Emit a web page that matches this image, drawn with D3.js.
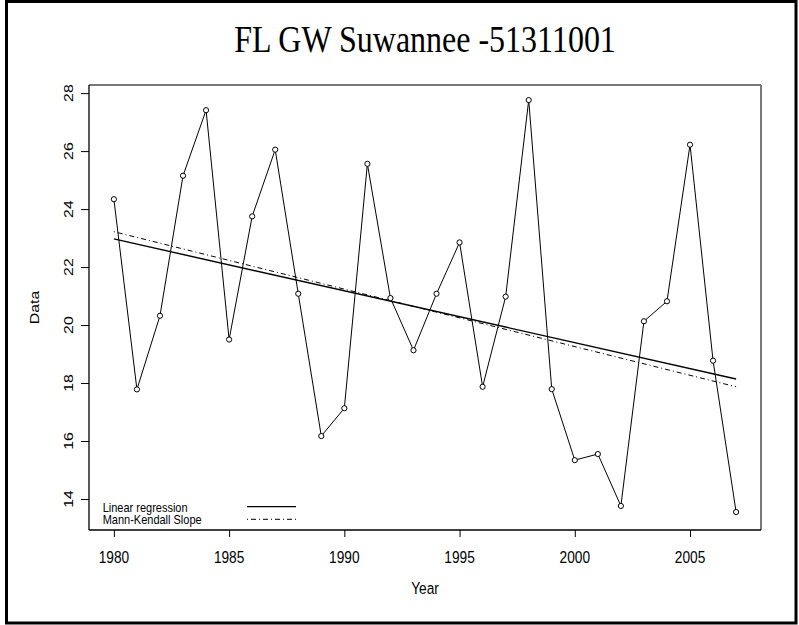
<!DOCTYPE html>
<html>
<head>
<meta charset="utf-8">
<script src="https://cdn.jsdelivr.net/npm/d3@7"></script>
<style>
  html, body { margin: 0; padding: 0; background: #fff; }
  svg { display: block; }
  text { font-family: "Liberation Sans", Arial, sans-serif; fill: #000; }
</style>
</head>
<body>
<svg id="chart" width="799" height="625"></svg>
<script>
// ---- data ----
const titleText = "FL GW Suwannee -51311001";
const xLabel = "Year";
const yLabel = "Data";
const years = [1980, 1981, 1982, 1983, 1984, 1985, 1986, 1987, 1988, 1989,
               1990, 1991, 1992, 1993, 1994, 1995, 1996, 1997, 1998, 1999,
               2000, 2001, 2002, 2003, 2004, 2005, 2006, 2007];
const values = [24.34, 17.78, 20.32, 25.15, 27.41, 19.50, 23.75, 26.05, 21.08, 16.17,
                17.13, 25.56, 20.93, 19.13, 21.08, 22.85, 17.87, 20.98, 27.76, 17.79,
                15.34, 15.55, 13.76, 20.13, 20.82, 26.22, 18.77, 13.55];
const trendYears = [1980, 2007];
const linRegValues = [22.97, 18.14];
const mkSlopeValues = [23.22, 17.87];
const xTicks = [1980, 1985, 1990, 1995, 2000, 2005];
const yTicks = [14, 16, 18, 20, 22, 24, 26, 28];
const legendLabels = ["Linear regression", "Mann-Kendall Slope"];
const xDomain = [1978.92, 2008.08];
const yDomain = [12.93, 28.28];

// ---- layout ----
const plot = { left: 89, right: 761, top: 85, bottom: 530 };
const stretch = 1.16;

const svg = d3.select("#chart");
const x = d3.scaleLinear().domain(xDomain).range([plot.left, plot.right]);
const y = d3.scaleLinear().domain(yDomain).range([plot.bottom, plot.top]);

// outer frame
svg.append("rect").attr("x", 6.5).attr("y", 1.5).attr("width", 789.5).attr("height", 621.5)
  .attr("fill", "none").attr("stroke", "#000").attr("stroke-width", 3);

// title
svg.append("text")
  .attr("transform", `translate(${(plot.left + plot.right) / 2},52) scale(1,${stretch})`)
  .attr("text-anchor", "middle")
  .style("font-family", "'Liberation Serif', 'Times New Roman', serif")
  .style("font-size", "32px")
  .text(titleText);

// axes ticks
svg.append("g").attr("transform", `translate(0,${plot.bottom})`)
  .call(d3.axisBottom(x).tickValues(xTicks).tickSize(7).tickFormat(""))
  .call(g => g.select(".domain").remove())
  .call(g => g.selectAll(".tick line").attr("stroke", "#000"));
svg.append("g").attr("transform", `translate(${plot.left},0)`)
  .call(d3.axisLeft(y).tickValues(yTicks).tickSize(8).tickFormat(""))
  .call(g => g.select(".domain").remove())
  .call(g => g.selectAll(".tick line").attr("stroke", "#000"));

// tick labels
svg.append("g").selectAll("text").data(xTicks).join("text")
  .attr("transform", d => `translate(${x(d)},562.5) scale(1,${stretch})`)
  .attr("text-anchor", "middle").style("font-size", "13.7px")
  .text(d => d);
svg.append("g").selectAll("text").data(yTicks).join("text")
  .attr("transform", d => `translate(73,${y(d)}) scale(1,${stretch}) rotate(-90)`)
  .attr("text-anchor", "middle").style("font-size", "13.7px")
  .text(d => d);

// axis titles
svg.append("text")
  .attr("transform", `translate(${(plot.left + plot.right) / 2},594) scale(1,${stretch})`)
  .attr("text-anchor", "middle").style("font-size", "13.7px").text(xLabel);
svg.append("text")
  .attr("transform", `translate(39,${(plot.top + plot.bottom) / 2}) scale(1,${stretch}) rotate(-90)`)
  .attr("text-anchor", "middle").style("font-size", "13.7px").text(yLabel);

// plot box
svg.append("line").attr("x1", plot.left).attr("x2", plot.right).attr("y1", plot.top).attr("y2", plot.top)
  .attr("stroke", "#777").attr("stroke-width", 2);
svg.append("line").attr("x1", plot.right).attr("x2", plot.right).attr("y1", plot.top).attr("y2", plot.bottom)
  .attr("stroke", "#777").attr("stroke-width", 2);
svg.append("line").attr("x1", plot.left).attr("x2", plot.left).attr("y1", plot.top).attr("y2", plot.bottom)
  .attr("stroke", "#000").attr("stroke-width", 1.3);
svg.append("line").attr("x1", plot.left).attr("x2", plot.right).attr("y1", plot.bottom).attr("y2", plot.bottom)
  .attr("stroke", "#000").attr("stroke-width", 1.3);

// data line
const pts = years.map((yr, i) => [yr, values[i]]);
svg.append("path").datum(pts)
  .attr("d", d3.line().x(d => x(d[0])).y(d => y(d[1])))
  .attr("fill", "none").attr("stroke", "#000").attr("stroke-width", 1);

// trend lines
const linPts = trendYears.map((yr, i) => [yr, linRegValues[i]]);
const mkPts = trendYears.map((yr, i) => [yr, mkSlopeValues[i]]);
svg.append("path").datum(linPts)
  .attr("d", d3.line().x(d => x(d[0])).y(d => y(d[1])))
  .attr("fill", "none").attr("stroke", "#000").attr("stroke-width", 1.4);
svg.append("path").datum(mkPts)
  .attr("d", d3.line().x(d => x(d[0])).y(d => y(d[1])))
  .attr("fill", "none").attr("stroke", "#000").attr("stroke-width", 1)
  .attr("stroke-dasharray", "1,3,5,3");

// points
svg.append("g").selectAll("circle").data(pts).join("circle")
  .attr("cx", d => x(d[0])).attr("cy", d => y(d[1])).attr("r", 2.6)
  .attr("fill", "#fff").attr("stroke", "#000").attr("stroke-width", 1);

// legend
const leg = svg.append("g");
legendLabels.forEach((lab, i) => {
  leg.append("text")
    .attr("transform", `translate(102.7,${512.3 + i * 12}) scale(1,1.1)`)
    .style("font-size", "11px").text(lab);
  leg.append("line").attr("x1", 247).attr("x2", 296)
    .attr("y1", 506.7 + i * 12.6).attr("y2", 506.7 + i * 12.6)
    .attr("stroke", "#000").attr("stroke-width", i === 0 ? 1.3 : 1)
    .attr("stroke-dasharray", i === 0 ? null : "1,3,5,3");
});
</script>
</body>
</html>
